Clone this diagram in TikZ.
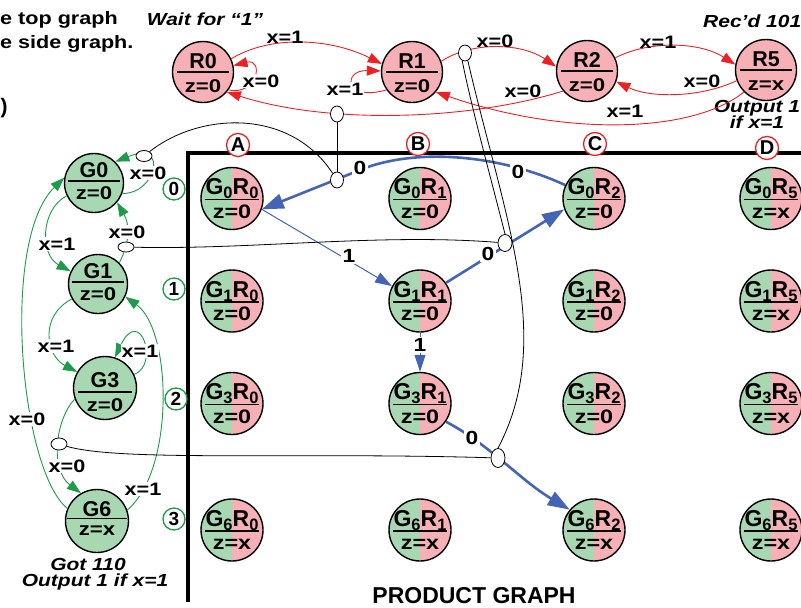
\documentclass[tikz,border=0pt]{standalone}
\usepackage{fontspec}
\setmainfont{Liberation Sans}
\newfontfamily\widesans{Liberation Sans}[FakeStretch=1.2]
\usetikzlibrary{arrows.meta,shapes.geometric,calc}

\definecolor{linkred}{RGB}{237,32,36}
\definecolor{statepink}{RGB}{246,176,182}
\definecolor{stategreen}{RGB}{168,216,178}
\definecolor{sidegreen}{RGB}{28,155,72}
\definecolor{prodblue}{RGB}{68,100,182}

\newcommand\lblfont{\widesans\bfseries\fontsize{18}{18}\selectfont}
\newcommand\digitfont{\widesans\bfseries\fontsize{19}{19}\selectfont}
\newcommand\notefont{\widesans\bfseries\itshape\fontsize{17.5}{17.5}\selectfont}
\newcommand\namefont{\bfseries\fontsize{21.5}{21.5}\selectfont}
\newcommand\pairfont{\bfseries\fontsize{23}{23}\selectfont}
\newcommand\outfont{\widesans\bfseries\fontsize{18.5}{18.5}\selectfont}
\newcommand\pairoutfont{\widesans\bfseries\fontsize{19.5}{19.5}\selectfont}
\newcommand\idx[1]{\raisebox{-4pt}{\fontsize{16.5}{16.5}\selectfont #1}}

% upper text, dividing rule and lower text inside a state circle
\newcommand\stlabel[9]{%
  \draw[line width=1.5pt] ($(#1)+(-#9,#5)$) -- ($(#1)+(#9,#5)$);
  \node[anchor=base,inner sep=0pt,font=#7] (#1-up) at ($(#1)+(0,#4)$) {#2};
  \node[anchor=base,inner sep=0pt,font=#8] (#1-lo) at ($(#1)+(0,#6)$) {#3};
}

\tikzset{
  rstate/.style={circle, draw, line width=1.4pt, fill=statepink, minimum size=61pt, inner sep=0pt},
  gstate/.style={circle, draw, line width=1.4pt, fill=stategreen, minimum size=#1, inner sep=0pt},
  gstate/.default=60pt,
  pstate/.style={circle, draw, line width=1.4pt, minimum size=62pt, inner sep=0pt,
    path picture={
      \fill[stategreen] (path picture bounding box.south west) rectangle (path picture bounding box.north);
      \fill[statepink] (path picture bounding box.south) rectangle (path picture bounding box.north east);}},
  redarrow/.style={draw=linkred, line width=0.9pt, -{Triangle[length=14pt,width=10pt]}},
  greenarrow/.style={draw=sidegreen, line width=0.9pt, -{Triangle[length=14pt,width=10pt]}},
  bluethick/.style={draw=prodblue, line width=2.6pt, -{Triangle[length=22pt,width=15pt]}},
  bluethin/.style={draw=prodblue, line width=1pt, -{Triangle[length=17pt,width=11pt]}},
  link/.style={draw=black, line width=0.8pt},
  linkdot/.style={ellipse, draw, line width=0.8pt, fill=white, inner sep=0pt,
    minimum width=13pt, minimum height=16pt},
  flatdot/.style={linkdot, minimum width=16pt, minimum height=11pt},
  elabel/.style={font=\lblfont, inner sep=1pt},
  elabelw/.style={elabel, fill=white},
  dlabel/.style={font=\digitfont, inner sep=1.5pt, fill=white},
  rowtag/.style={circle, draw=sidegreen, line width=1.3pt, fill=white, minimum size=22pt,
    inner sep=0pt, font=\bfseries\fontsize{19}{19}\selectfont},
  coltag/.style={circle, draw=linkred, line width=1.3pt, fill=white, minimum size=23pt,
    inner sep=0pt, font=\bfseries\fontsize{20}{20}\selectfont},
}

\begin{document}
\begin{tikzpicture}[x=1pt,y=-1pt]
\useasboundingbox (0,0) rectangle (801,608);

% ---------- notes ----------
\node[anchor=base west, inner sep=0pt, font=\lblfont] (noteTop) at (0,24) {e top graph};
\node[anchor=base west, inner sep=0pt, font=\lblfont] (noteSide) at (0,48) {e side graph.};
\node[anchor=base west, inner sep=0pt, font=\bfseries\fontsize{21}{21}\selectfont] (noteParen) at (0.5,113) {)};
\node[anchor=base, inner sep=0pt, font=\notefont] (waitNote) at (205,25) {Wait for “1”};
\node[anchor=base west, inner sep=0pt, font=\notefont] (recNote) at (703,27) {Rec’d 101};
\node[anchor=base, inner sep=0pt, font=\notefont] (outNoteA) at (757,112) {Output 1};
\node[anchor=base, inner sep=0pt, font=\notefont] (outNoteB) at (757,128) {if x=1};
\node[anchor=base, inner sep=0pt, font=\notefont] (gotNoteA) at (88,570) {Got 110};
\node[anchor=base, inner sep=0pt, font=\notefont] (gotNoteB) at (95,586) {Output 1 if x=1};
\node[anchor=base, inner sep=0pt, font=\bfseries\fontsize{23}{23}\selectfont] (prodTitle) at (474,603) {PRODUCT GRAPH};

% ---------- product frame ----------
\draw[line width=4pt] (801,153) -- (188,153) -- (188,602);

% ---------- top graph ----------
\node[rstate] (R0) at (203,72) {};
\node[rstate] (R1) at (412,72) {};
\node[rstate] (R2) at (587,71) {};
\node[rstate] (R5) at (766,70) {};
\stlabel{R0}{R0}{z=0}{-3.5}{0}{20}{\namefont}{\outfont}{26}
\stlabel{R1}{R1}{z=0}{-3.5}{0}{20}{\namefont}{\outfont}{26}
\stlabel{R2}{R2}{z=0}{-3.5}{0}{20}{\namefont}{\outfont}{26}
\stlabel{R5}{R5}{z=x}{-3.5}{0}{20}{\namefont}{\outfont}{26}

\draw[redarrow] (R0.25) .. controls (270,35) and (330,38) .. (R1.165);
\draw[redarrow] (R1.20) .. controls (470,42) and (520,42) .. (R2.172);
\draw[redarrow] (R2.25) .. controls (650,40) and (700,42) .. (R5.170);
\draw[redarrow] (R5.200) .. controls (700,98) and (650,98) .. (R2.-20);
\draw[redarrow] (R2.-140) .. controls (470,120) and (330,125) .. (R0.-40);
\draw[redarrow] (R5.-135) .. controls (690,135) and (560,135) .. (R1.-40);
\draw[redarrow] (R0.-35) .. controls (258,96) and (264,58) .. (R0.12);
\draw[redarrow] (R1.215) .. controls (345,102) and (342,70) .. (R1.178);

% ---------- side graph ----------
\node[gstate=59pt] (G0) at (94,183) {};
\node[gstate=59pt] (G1) at (98,284) {};
\node[gstate=63pt] (G3) at (105,388) {};
\node[gstate=63pt] (G6) at (97,521) {};
\stlabel{G0}{G0}{z=0}{-6}{-2}{16}{\namefont}{\outfont}{26}
\stlabel{G1}{G1}{z=0}{-6}{-2}{16.5}{\namefont}{\outfont}{26}
\stlabel{G3}{G3}{z=0}{-1}{4}{23}{\namefont}{\outfont}{27}
\stlabel{G6}{G6}{z=x}{-4.5}{-2.5}{14.5}{\namefont}{\outfont}{30}

\draw[greenarrow] (G0.205) .. controls (40,210) and (40,255) .. (G1.155);
\draw[greenarrow] (G1.45) .. controls (130,242) and (130,225) .. (G0.-40);
\draw[greenarrow] (G0.-20) .. controls (155,195) and (170,140) .. (G0.45);
\draw[greenarrow] (G1.210) .. controls (40,315) and (45,355) .. (G3.150);
\draw[greenarrow] (G3.25) .. controls (160,365) and (140,305) .. (G3.72);
\draw[greenarrow] (G3.200) .. controls (55,420) and (50,470) .. (G6.120);
\draw[greenarrow] (G6.157) .. controls (20,470) and (0,240) .. (G0.170);
\draw[greenarrow] (G6.20) .. controls (175,470) and (172,330) .. (G1.-25);

% ---------- row and column tags ----------
\node[rowtag] (row0) at (174,189) {0};
\node[rowtag] (row1) at (174,289) {1};
\node[rowtag] (row2) at (176,399) {2};
\node[rowtag] (row3) at (174,519) {3};
\node[coltag] (colA) at (238,145) {A};
\node[coltag] (colB) at (418,144) {B};
\node[coltag] (colC) at (595,144) {C};
\node[coltag] (colD) at (767,148) {D};

% ---------- product graph ----------
\foreach \g/\gy in {0/198.5, 1/301, 3/403.5, 6/530}{
  \foreach \r/\rx in {0/232, 1/420, 2/594, 5/771}{
    \node[pstate] (G\g R\r) at (\rx,\gy) {};
  }
}
\foreach \g/\z in {0/0, 1/0, 3/0, 6/x}{
  \foreach \r in {0,1,2}{
    \stlabel{G\g R\r}{G\idx{\g}R\idx{\r}}{z=\z}{-4}{1}{19.5}{\pairfont}{\pairoutfont}{27}
  }
  \stlabel{G\g R5}{G\idx{\g}R\idx{5}}{z=x}{-4}{1}{19.5}{\pairfont}{\pairoutfont}{27}
}

\draw[bluethick] (G0R2.155) .. controls (500,155) and (420,148) .. (365,168) -- (G0R0.-20);
\draw[bluethin] (G0R0.-20) -- (G1R1.152);
\draw[bluethick] (G1R1.35) -- (G0R2.200);
\draw[bluethin] (G1R1.south) -- (G3R1.north);
\draw[bluethick] (G3R1.-35) .. controls (490,445) and (520,480) .. (G6R2.140);

% ---------- correspondence links ----------
\node[linkdot] (mkR20) at (337,114) {};
\node[linkdot] (mkR12) at (465,53) {};
\node[linkdot] (mkP0) at (337,180) {};
\node[linkdot, minimum width=14pt, minimum height=17pt] (mkP1) at (505,243) {};
\node[linkdot, minimum width=14pt, minimum height=19pt] (mkP3) at (498,458) {};
\node[flatdot] (mkG0) at (144,156) {};
\node[flatdot, minimum height=10pt] (mkG10) at (126,247) {};
\node[flatdot, minimum height=12pt] (mkG36) at (59,444) {};

\draw[link] (mkG0) .. controls (200,112) and (290,108) .. (mkP0);
\draw[link] (mkR20) -- (mkP0);
\draw[link] (mkG10) .. controls (250,250) and (380,233) .. (mkP1);
\draw[link] (mkG36) .. controls (120,462) and (300,452) .. (mkP3);
\draw[link] (mkR12.-110) .. controls (472,110) and (494,190) .. (mkP1.north);
\draw[link] (mkR12.-70) .. controls (505,220) and (555,340) .. (mkP3.north);

% ---------- edge labels ----------
\node[elabel] (lR01) at (285,37) {x=1};
\node[elabel] (lR12) at (495,41) {x=0};
\node[elabel] (lR25) at (658,42) {x=1};
\node[elabel] (lR52) at (702,81) {x=0};
\node[elabel] (lR20) at (523,91) {x=0};
\node[elabel] (lR51) at (625,111) {x=1};
\node[elabelw] (lR00) at (261,81) {x=0};
\node[elabelw] (lR11) at (345,89) {x=1};

\node[elabelw] (lG01) at (57,244) {x=1};
\node[elabelw] (lG10) at (127,232) {x=0};
\node[elabelw] (lG00) at (148,173) {x=0};
\node[elabelw] (lG13) at (56,346) {x=1};
\node[elabelw] (lG33) at (140,351) {x=1};
\node[elabelw] (lG36) at (67,466) {x=0};
\node[elabelw] (lG60) at (27,419) {x=0};
\node[elabelw] (lG61) at (143,489) {x=1};

\node[dlabel] (lPa) at (360,168) {0};
\node[dlabel] (lPb) at (518,172) {0};
\node[dlabel] (lPc) at (349,256) {1};
\node[dlabel] (lPd) at (488,254) {0};
\node[dlabel] (lPe) at (420,345) {1};
\node[dlabel] (lPf) at (472,438) {0};
\end{tikzpicture}
\end{document}
